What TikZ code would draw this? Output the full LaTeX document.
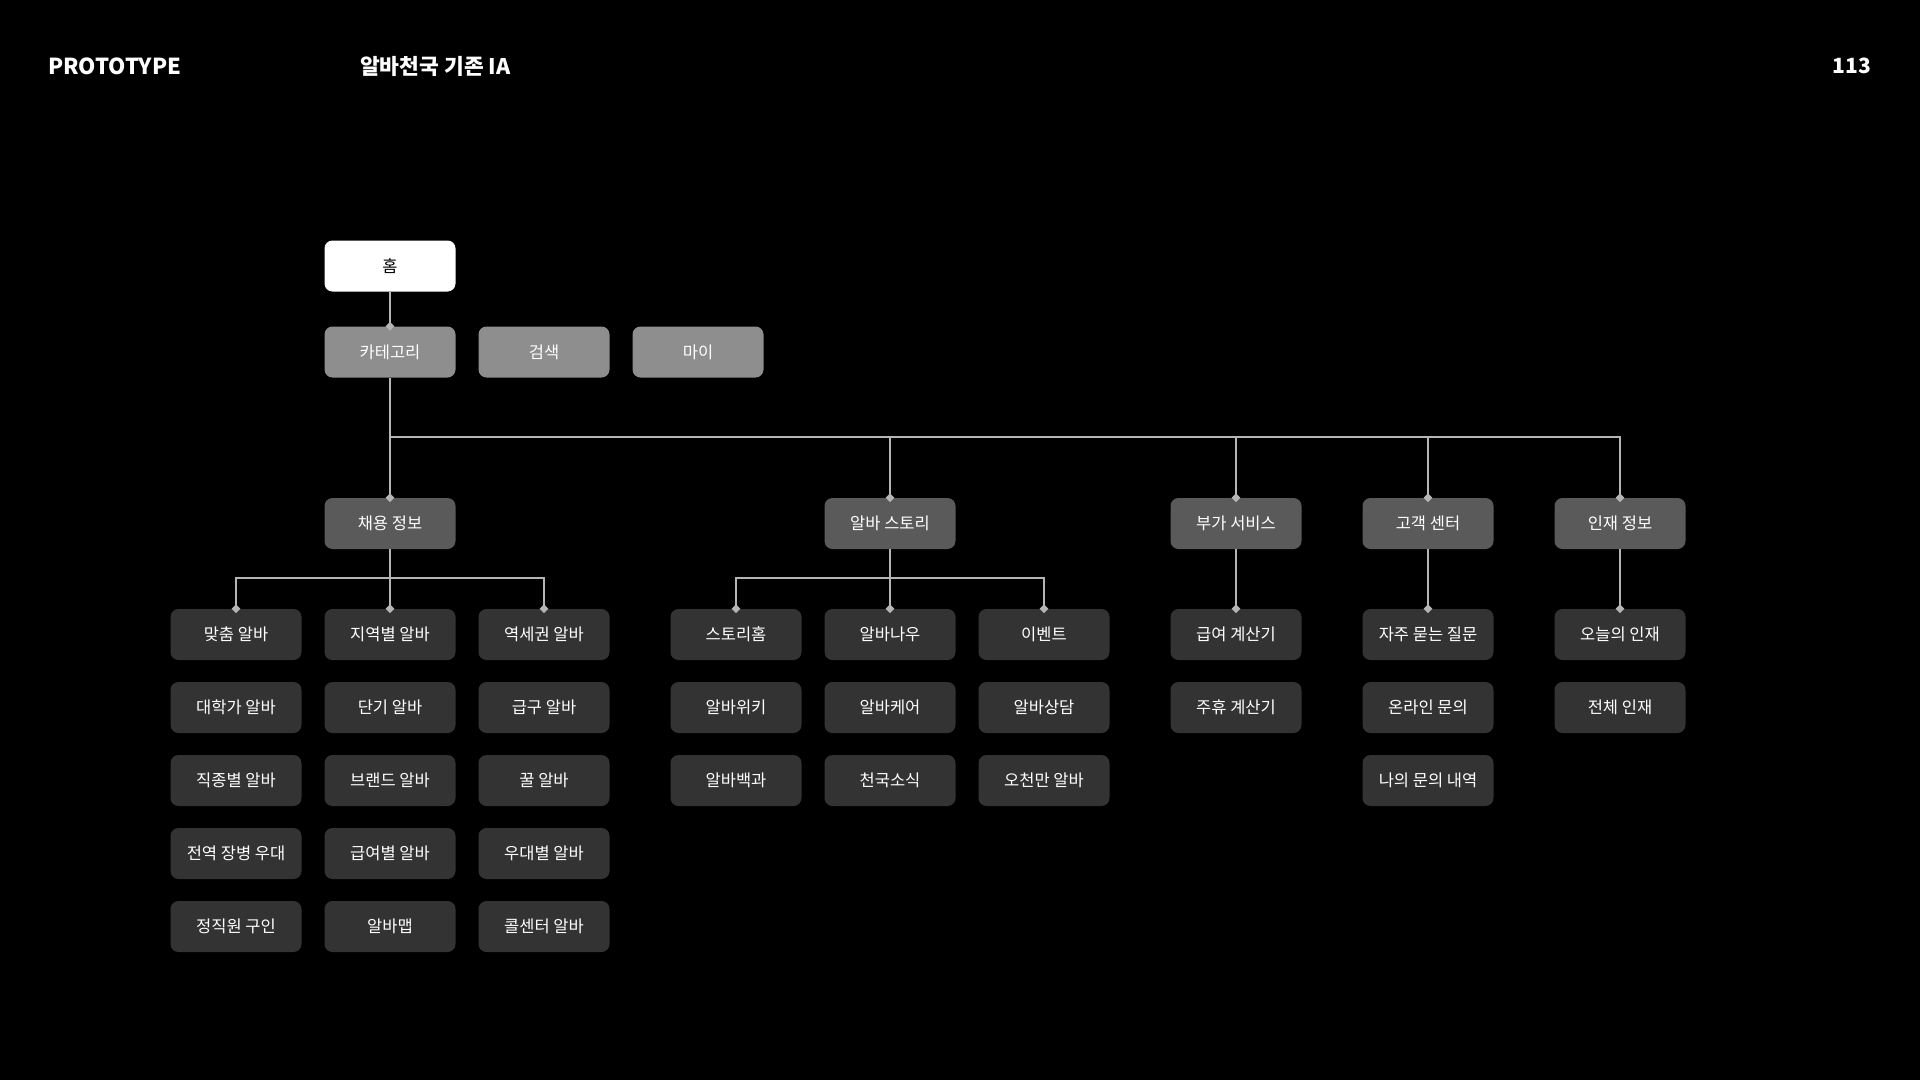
\documentclass[tikz,border=0pt]{standalone}
\usepackage{fontspec}
\setmainfont{Noto Sans CJK KR}
\usepackage{tikz}
\usetikzlibrary{calc}
\usetikzlibrary{positioning}
\usetikzlibrary{shapes.geometric}
\definecolor{catgray}{HTML}{8E8E8E}
\definecolor{secgray}{HTML}{5A5A5A}
\definecolor{leafgray}{HTML}{333333}
\definecolor{linegray}{HTML}{B5B5B5}
\tikzstyle{menubox} = [rectangle, rounded corners=8pt, minimum width=131pt, minimum height=51pt, inner sep=0pt, text=white, font=\fontsize{16.5}{19}\selectfont]
\tikzstyle{homebox} = [menubox, fill=white, text=black]
\tikzstyle{catbox} = [menubox, fill=catgray]
\tikzstyle{secbox} = [menubox, fill=secgray]
\tikzstyle{leafbox} = [menubox, fill=leafgray]
\tikzstyle{link} = [draw=linegray, line width=1.6pt]
\tikzstyle{knob} = [diamond, fill=linegray, inner sep=0pt, minimum size=9pt]
\tikzstyle{headtext} = [text=white, inner sep=0pt, font=\bfseries\fontsize{22}{26}\selectfont]

\begin{document}
\begin{tikzpicture}[x=1pt, y=-1pt]
\useasboundingbox[fill=black] (0,0) rectangle (1920,1080);
\node[headtext, anchor=west] (proto) at (48,66) {PROTOTYPE};
\node[headtext, anchor=west, font=\bfseries\fontsize{21.5}{26}\selectfont] (title) at (360,66) {알바천국 기존 IA};
\node[headtext, anchor=east, font=\bfseries\fontsize{21}{26}\selectfont] (page) at (1871,66) {113};

\node[homebox] (home) at (390,266) {홈};
\node[catbox] (cat) at ($(home)+(0,86)$) {카테고리};
\node[catbox] (search) at ($(cat)+(154,0)$) {검색};
\node[catbox] (my) at ($(search)+(154,0)$) {마이};

\coordinate (bus) at (0,437);
\node[secbox] (chae) at (390,523.5) {채용 정보};
\node[secbox] (story) at (890,523.5) {알바 스토리};
\node[secbox] (extra) at (1236,523.5) {부가 서비스};
\node[secbox] (help) at (1428,523.5) {고객 센터};
\node[secbox] (talent) at (1620,523.5) {인재 정보};

% 채용 정보
\coordinate (bus2) at (0,578);
\node[leafbox] (c11) at (236,634.5) {맞춤 알바};
\node[leafbox] (c12) at ($(c11)+(154,0)$) {지역별 알바};
\node[leafbox] (c13) at ($(c12)+(154,0)$) {역세권 알바};
\node[leafbox] (c21) at ($(c11)+(0,73)$) {대학가 알바};
\node[leafbox] (c22) at ($(c12)+(0,73)$) {단기 알바};
\node[leafbox] (c23) at ($(c13)+(0,73)$) {급구 알바};
\node[leafbox] (c31) at ($(c21)+(0,73)$) {직종별 알바};
\node[leafbox] (c32) at ($(c22)+(0,73)$) {브랜드 알바};
\node[leafbox] (c33) at ($(c23)+(0,73)$) {꿀 알바};
\node[leafbox] (c41) at ($(c31)+(0,73)$) {전역 장병 우대};
\node[leafbox] (c42) at ($(c32)+(0,73)$) {급여별 알바};
\node[leafbox] (c43) at ($(c33)+(0,73)$) {우대별 알바};
\node[leafbox] (c51) at ($(c41)+(0,73)$) {정직원 구인};
\node[leafbox] (c52) at ($(c42)+(0,73)$) {알바맵};
\node[leafbox] (c53) at ($(c43)+(0,73)$) {콜센터 알바};

% 알바 스토리
\node[leafbox] (s11) at (736,634.5) {스토리홈};
\node[leafbox] (s12) at ($(s11)+(154,0)$) {알바나우};
\node[leafbox] (s13) at ($(s12)+(154,0)$) {이벤트};
\node[leafbox] (s21) at ($(s11)+(0,73)$) {알바위키};
\node[leafbox] (s22) at ($(s12)+(0,73)$) {알바케어};
\node[leafbox] (s23) at ($(s13)+(0,73)$) {알바상담};
\node[leafbox] (s31) at ($(s21)+(0,73)$) {알바백과};
\node[leafbox] (s32) at ($(s22)+(0,73)$) {천국소식};
\node[leafbox] (s33) at ($(s23)+(0,73)$) {오천만 알바};

% 부가 서비스, 고객 센터, 인재 정보
\node[leafbox] (e1) at (1236,634.5) {급여 계산기};
\node[leafbox] (e2) at ($(e1)+(0,73)$) {주휴 계산기};
\node[leafbox] (h1) at (1428,634.5) {자주 묻는 질문};
\node[leafbox] (h2) at ($(h1)+(0,73)$) {온라인 문의};
\node[leafbox] (h3) at ($(h2)+(0,73)$) {나의 문의 내역};
\node[leafbox] (t1) at (1620,634.5) {오늘의 인재};
\node[leafbox] (t2) at ($(t1)+(0,73)$) {전체 인재};

\draw[link] (home.south) -- (cat.north);
\draw[link] (cat.south) -- (chae.north);
\foreach \n in {story,extra,help,talent}
    \draw[link] (cat.south |- bus) -| (\n.north);
\draw[link] (chae.south) -- (c12.north);
\draw[link] (chae.south |- bus2) -| (c11.north);
\draw[link] (chae.south |- bus2) -| (c13.north);
\draw[link] (story.south) -- (s12.north);
\draw[link] (story.south |- bus2) -| (s11.north);
\draw[link] (story.south |- bus2) -| (s13.north);
\draw[link] (extra.south) -- (e1.north);
\draw[link] (help.south) -- (h1.north);
\draw[link] (talent.south) -- (t1.north);

\foreach \n in {cat,chae,story,extra,help,talent,c11,c12,c13,s11,s12,s13,e1,h1,t1}
    \node[knob] (k\n) at (\n.north) {};
\end{tikzpicture}
\end{document}
